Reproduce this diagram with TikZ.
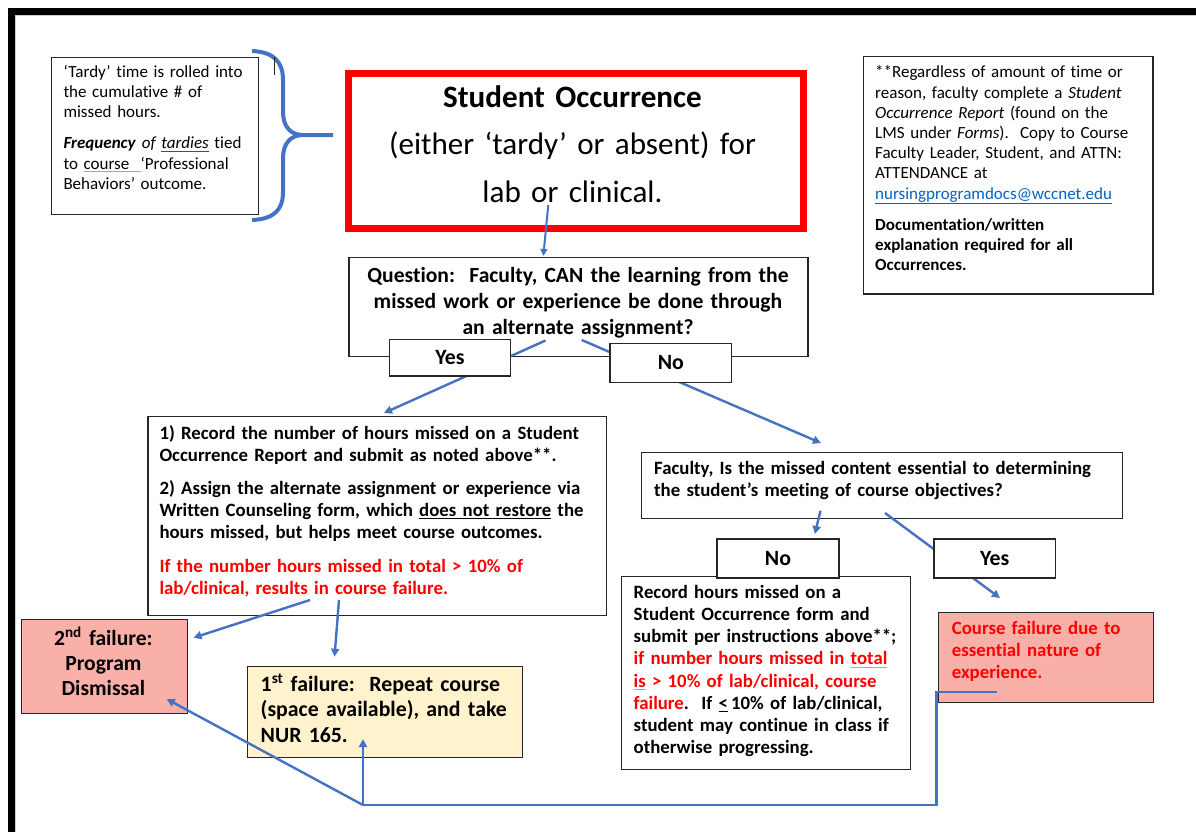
\documentclass[tikz,border=0pt]{standalone}
\usepackage{fontspec}
\setmainfont{Carlito}[Ligatures=NoCommon]
\usetikzlibrary{arrows.meta}
\definecolor{lineblue}{HTML}{4472C4}
\definecolor{occred}{HTML}{FF0000}
\definecolor{linkblue}{HTML}{0563C1}
\definecolor{salmon}{RGB}{248,176,168}
\definecolor{cream}{HTML}{FFF2CC}
\definecolor{ulblue}{HTML}{8EA9DB}
\definecolor{boxline}{HTML}{262626}
\frenchspacing
\newsavebox\ulbox
\newcommand\bul[1]{\leavevmode\sbox\ulbox{#1}\rlap{\textcolor{ulblue}{\rule[-3pt]{\wd\ulbox}{0.8pt}}}\usebox\ulbox}
\newcommand\rul[1]{\leavevmode\sbox\ulbox{#1}\rlap{\textcolor{occred}{\rule[-3pt]{\wd\ulbox}{0.6pt}}}\usebox\ulbox}
\tikzset{
  box/.style={draw=boxline, line width=1.3pt, fill=white, inner sep=0pt, anchor=north west, rectangle},
  txt/.style={inner sep=0pt, anchor=base west, align=left, text width=#1},
  ctxt/.style={inner sep=0pt, anchor=base, align=center, text width=#1},
  conn/.style={draw=lineblue, line width=2.4pt, -{Triangle[length=8pt,width=8pt]}},
  fs/.style={font=\fontsize{17}{20.2}\selectfont},
  fm/.style={font=\bfseries\fontsize{18.8}{22.2}\selectfont},
  fl/.style={font=\bfseries\fontsize{21.8}{25.6}\selectfont},
}
\begin{document}
\begin{tikzpicture}[x=1pt,y=-1pt]
\useasboundingbox (0,0) rectangle (1196,831);
\clip (0,0) rectangle (1196,831);
% page frame
\draw[gray!35, line width=1.2pt] (15.8,840) -- (15.8,15.8) -- (1205,15.8);
\draw[black, line width=6.5pt, line join=miter] (11.5,840) -- (11.5,11.5) -- (1205,11.5);

% brace
\draw[lineblue, line width=4pt]
  (252,51) .. controls (274,52) and (283,62) .. (283,80) -- (283,112)
  .. controls (283,127) and (291,135) .. (303,135) -- (333,135);
\draw[lineblue, line width=4pt]
  (303,135) .. controls (291,135) and (283,143) .. (283,158) -- (283,192)
  .. controls (283,210) and (274,219) .. (252,220);
\draw[black!85, line width=1.5pt] (274.5,57) -- (274.5,75);

% top-left note
\node[box, minimum width=207pt, minimum height=157.3pt] (tl) at (50.7,56.7) {};
\node[txt=220pt, fs] (tlt) at (63.3,77.3) {‘Tardy’ time is rolled into\\the cumulative \# of\\missed hours.\\[11pt]\textbf{\textit{Frequency}} \textit{of \rul{tardies}} tied\\to \bul{course\ \ }‘Professional\\Behaviors’ outcome.};

% top-right note
\node[box, minimum width=289.6pt, minimum height=237.3pt] (tr) at (862.7,56) {};
\node[txt=300pt, fs] (trt) at (875,77.9) {**Regardless of amount of time or\\reason, faculty complete a \textit{Student}\\\textit{Occurrence Report} (found on the\\LMS under \textit{Forms}).\ \ Copy to Course\\Faculty Leader, Student, and ATTN:\\ATTENDANCE at\\{\color{linkblue}\underline{nursingprogramdocs@wccnet.edu}}\\[11pt]\textbf{Documentation/written}\\\textbf{explanation required for all}\\\textbf{Occurrences.}};

% main occurrence box
\node[draw=occred, line width=7pt, minimum width=455pt, minimum height=155pt, anchor=north west, inner sep=0pt] (occ) at (345,70) {};
\node[ctxt=440pt, font=\fontsize{31.1}{47.5}\selectfont] (occt) at (572.5,107) {\textbf{Student Occurrence}\\(either ‘tardy’ or absent) for\\lab or clinical.};
\coordinate (a0s) at (548.3,205);
\coordinate (a0e) at (543.3,256);
\draw[conn, line width=2pt, -{Triangle[length=7pt,width=7pt]}] (a0s) -- (a0e);

% question
\node[box, minimum width=459pt, minimum height=99.3pt] (q) at (348.3,256.7) {};
\node[ctxt=455pt, font=\bfseries\fontsize{21.6}{25.8}\selectfont] (qt) at (578,282.8) {Question:\ \ Faculty, CAN the learning from the\\missed work or experience be done through\\an alternate assignment?};
\coordinate (a1s) at (545.5,340.5);
\coordinate (a1e) at (384,413);
\coordinate (a2s) at (581.7,340);
\coordinate (a2e) at (821,443);
\draw[conn] (a1s) -- (a1e);
\draw[conn] (a2s) -- (a2e);
\node[box, anchor=center, minimum width=121.4pt, minimum height=36.7pt, fl] (yes) at (450,357.7) {Yes};
\node[box, anchor=center, minimum width=121.7pt, minimum height=39pt, fl] (no) at (670.9,362.8) {No};

% yes branch
\node[box, minimum width=458.7pt, minimum height=199pt] (bb) at (147.3,416) {};
\node[txt=450pt, fm] (bbt) at (159.3,439) {1) Record the number of hours missed on a Student\\Occurrence Report and submit as noted above**.\\[11pt]2) Assign the alternate assignment or experience via\\Written Counseling form, which \underline{does not restore} the\\hours missed, but helps meet course outcomes.\\[11pt]{\color{occred}If the number hours missed in total > 10\% of}\\{\color{occred}lab/clinical, results in course failure.}};
\coordinate (a3s) at (310,600);
\coordinate (a3e) at (193.5,637.7);
\coordinate (a4s) at (339,600);
\coordinate (a4e) at (334.5,656.7);
\draw[conn] (a3s) -- (a3e);
\draw[conn] (a4s) -- (a4e);

\node[box, fill=salmon, minimum width=165.6pt, minimum height=94pt] (f2) at (21,619) {};
\node[ctxt=160pt, font=\bfseries\fontsize{21.6}{25}\selectfont] (f2t) at (103.4,645.1) {2\textsuperscript{nd} failure:\\Program\\Dismissal};
\node[box, fill=cream, minimum width=275pt, minimum height=91pt] (f1) at (247,666) {};
\node[txt=270pt, fl] (f1t) at (260.5,691.3) {1\textsuperscript{st} failure:\ \ Repeat course\\(space available), and take\\NUR 165.};

% no branch
\node[box, minimum width=481pt, minimum height=66pt] (fq) at (641,452) {};
\node[txt=470pt, fm] (fqt) at (654,474.6) {Faculty, Is the missed content essential to determining\\the student’s meeting of course objectives?};
\coordinate (a5s) at (820.5,510.7);
\coordinate (a5e) at (814.8,534);
\coordinate (a6s) at (885,513);
\coordinate (a6e) at (1000,598);
\draw[conn] (a5s) -- (a5e);
\draw[conn] (a6s) -- (a6e);

\node[box, minimum width=289pt, minimum height=193pt] (rec) at (621,576) {};
\node[txt=285pt, fm] (rect) at (633.5,598.3) {Record hours missed on a\\Student Occurrence form and\\submit per instructions above**;\\{\color{occred}if number hours missed in \bul{total}}\\{\color{occred}\bul{is} > 10\% of lab/clinical, course}\\{\color{occred}failure}.\ \ If \underline{<}\,10\% of lab/clinical,\\student may continue in class if\\otherwise progressing.};
\node[box, anchor=center, minimum width=122pt, minimum height=39pt, fl] (no2) at (778,558.5) {No};
\node[box, anchor=center, minimum width=121.5pt, minimum height=39pt, fl] (yes2) at (994.7,558.5) {Yes};

\node[box, fill=salmon, minimum width=215pt, minimum height=90pt] (cf) at (938,612) {};
\node[txt=200pt, fm, text=occred] (cft) at (951.7,634.3) {Course failure due to\\essential nature of\\experience.};

% return connector
\coordinate (b1) at (997,692);
\coordinate (bc1) at (936.5,692);
\coordinate (bc2) at (936.5,805);
\coordinate (b2) at (363,805);
\coordinate (f1in) at (363,739);
\coordinate (f2in) at (166.7,699);
\draw[lineblue, line width=2.6pt] (b1) -- (bc1) -- (bc2) -- (b2);
\draw[conn] (b2) -- (f1in);
\draw[conn] (b2) -- (f2in);
\end{tikzpicture}
\end{document}
